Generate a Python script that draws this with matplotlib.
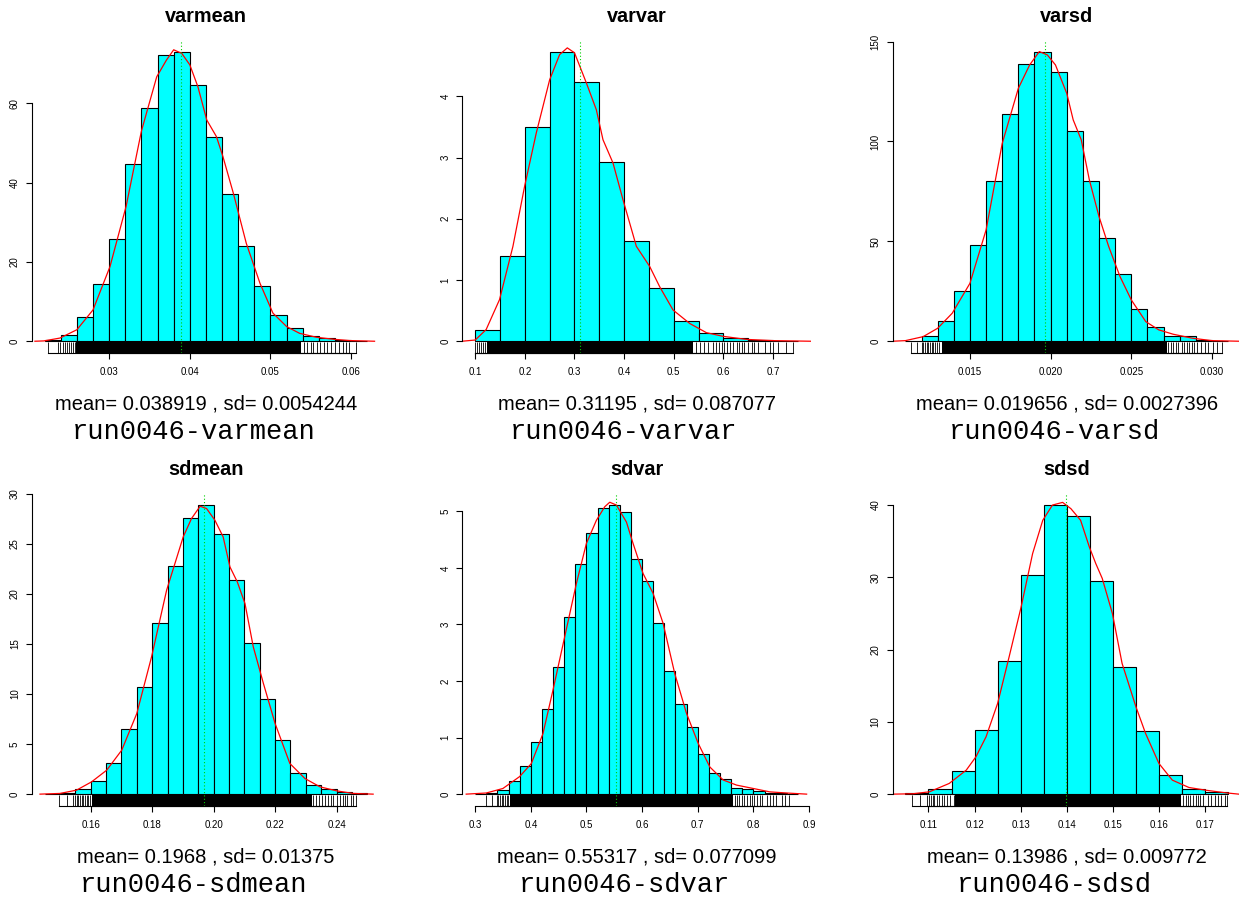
import numpy as np
import matplotlib
matplotlib.use('Agg')
import matplotlib.pyplot as plt

W, H = 1239, 899

names = ['varmean', 'varvar', 'varsd', 'sdmean', 'sdvar', 'sdsd']
means = [0.038919, 0.31195, 0.019656, 0.1968, 0.55317, 0.13986]
sds = [0.0054244, 0.087077, 0.0027396, 0.01375, 0.077099, 0.009772]

# histogram bins: first break, bin width, densities
bin_start = [0.022, 0.10, 0.011, 0.145, 0.30, 0.105]
bin_width = [0.002, 0.05, 0.001, 0.005, 0.02, 0.005]
varmean_h = [0.25, 1.5, 6.05, 14.5, 25.9, 44.8, 58.9, 72.2, 72.9, 64.5,
             51.6, 37.1, 23.9, 13.9, 6.6, 3.3, 1.2, 0.8, 0.25, 0.1]
varvar_h = [0.19, 1.39, 3.49, 4.72, 4.23, 2.92, 1.63, 0.87, 0.33, 0.13,
            0.06, 0.02, 0.01]
varsd_h = [0.2, 2.7, 10.2, 24.9, 48.2, 80.4, 113.5, 138.8, 144.7, 134.8,
           105.1, 80.3, 51.9, 33.9, 16.0, 7.3, 2.8, 2.5, 0.7, 0.3]
sdmean_h = [0.05, 0.1, 0.47, 1.33, 3.06, 6.55, 10.7, 17.1, 22.8, 27.6,
            28.83, 25.97, 21.38, 15.1, 9.51, 5.42, 2.13, 0.93, 0.53, 0.2, 0.07]
sdvar_h = [0.01, 0.02, 0.08, 0.23, 0.49, 0.92, 1.50, 2.24, 3.13, 4.07,
           4.61, 5.06, 5.11, 4.99, 4.16, 3.77, 3.03, 2.18, 1.59, 1.18,
           0.71, 0.37, 0.27, 0.10, 0.09, 0.06, 0.02, 0.02, 0.01]
sdsd_h = [0.1, 0.74, 3.23, 8.81, 18.4, 30.36, 40.0, 38.52, 29.53, 17.62,
          8.72, 2.68, 0.78, 0.23]
heights = [varmean_h, varvar_h, varsd_h, sdmean_h, sdvar_h, sdsd_h]

# kernel density curves
varmean_dx = [0.0208, 0.0219, 0.0239, 0.026, 0.028, 0.0301, 0.0321, 0.034, 0.0359,
              0.0371, 0.038, 0.039, 0.040, 0.041, 0.0421, 0.0433, 0.0441, 0.0454,
              0.047, 0.0487, 0.0503, 0.052, 0.0536, 0.0557, 0.0578, 0.0598, 0.0629]
varmean_dy = [0, 0.08, 0.8, 2.9, 7.9, 18.8, 34, 53, 66.7, 70.9, 73.5, 72.6, 69.7,
              64.2, 55.8, 51.6, 46.6, 37.3, 24.7, 14.6, 7.1, 3.7, 2.0, 1.0, 0.5, 0.17, 0]
varvar_dx = [0.0738, 0.1, 0.122, 0.149, 0.176, 0.1995, 0.223, 0.25, 0.27, 0.2855,
             0.30, 0.3238, 0.344, 0.3574, 0.3776, 0.3977, 0.4246, 0.4515, 0.4716,
             0.4985, 0.5321, 0.5657, 0.5993, 0.6464, 0.70, 0.776]
varvar_dy = [0, 0.02, 0.19, 0.68, 1.55, 2.53, 3.4, 4.27, 4.68, 4.79, 4.71, 4.22,
             3.78, 3.29, 2.91, 2.31, 1.55, 1.22, 0.89, 0.51, 0.29, 0.14, 0.08,
             0.03, 0.01, 0]
varsd_dx = [0.0102, 0.011, 0.0121, 0.013, 0.0139, 0.0150, 0.0160, 0.0170, 0.018,
            0.0187, 0.0193, 0.0198, 0.0203, 0.0210, 0.0214, 0.0219, 0.0224, 0.0230,
            0.0236, 0.0243, 0.0250, 0.0259, 0.0267, 0.0276, 0.0288, 0.0300, 0.0317]
varsd_dy = [0, 0.3, 2.3, 6.5, 14, 29, 55.7, 99, 126.6, 138.3, 145, 143.3, 138.3,
            124.1, 110.8, 100.8, 80.8, 62.4, 47.4, 32.4, 20.7, 9.8, 5.7, 3.5, 1.5,
            0.3, 0]
sdmean_dx = [0.1435, 0.15, 0.1554, 0.1603, 0.1652, 0.1701, 0.175, 0.1798, 0.1847,
             0.1901, 0.1928, 0.1956, 0.1977, 0.2004, 0.2031, 0.2053, 0.2077, 0.2102,
             0.2129, 0.2162, 0.22, 0.2248, 0.2297, 0.2346, 0.24, 0.2454, 0.2519]
sdmean_dy = [0, 0.07, 0.4, 1.23, 2.39, 4.39, 8.05, 13.7, 20.35, 25.67, 27.5, 28.73,
             28.5, 27.34, 25.67, 22.68, 21.18, 19.02, 14.7, 11.04, 7.05, 3.06, 1.56,
             0.73, 0.33, 0.07, 0]
sdvar_dx = [0.2838, 0.3198, 0.3498, 0.3798, 0.4008, 0.4218, 0.4398, 0.4608, 0.4818,
            0.4998, 0.5178, 0.5328, 0.5418, 0.5538, 0.5718, 0.5838, 0.6017, 0.6197,
            0.6377, 0.6587, 0.6797, 0.7007, 0.7217, 0.7457, 0.7697, 0.7997, 0.8297,
            0.8597, 0.8957]
sdvar_dy = [0, 0.02, 0.1, 0.31, 0.54, 1.07, 1.84, 2.78, 3.72, 4.43, 4.84, 5.08, 5.16,
            5.11, 4.81, 4.43, 3.9, 3.55, 3.02, 2.13, 1.43, 0.9, 0.48, 0.25, 0.16, 0.1,
            0.04, 0.02, 0]
sdsd_dx = [0.1023, 0.1066, 0.1102, 0.1145, 0.1182, 0.1203, 0.1225, 0.125, 0.1275,
           0.1301, 0.1326, 0.1348, 0.1369, 0.1391, 0.1409, 0.143, 0.1449, 0.1463,
           0.1477, 0.1499, 0.152, 0.155, 0.1571, 0.16, 0.1629, 0.1665, 0.1701,
           0.1745, 0.1773]
sdsd_dy = [0, 0.05, 0.32, 1.48, 3.32, 5.17, 7.94, 12.55, 19.0, 25.9, 33.3, 37.9,
           40.0, 40.37, 39.5, 37.9, 34.2, 31.9, 29.85, 25.0, 18.1, 12.1, 8.4, 4.24,
           1.94, 0.92, 0.55, 0.18, 0]
dens_x = [varmean_dx, varvar_dx, varsd_dx, sdmean_dx, sdvar_dx, sdsd_dx]
dens_y = [varmean_dy, varvar_dy, varsd_dy, sdmean_dy, sdvar_dy, sdsd_dy]

# rug: sparse tails + the solid middle stretch
rug_left = [
    [0.02243, 0.02368, 0.02397, 0.0243, 0.02455, 0.0248, 0.02504, 0.02529, 0.02554, 0.02578],
    [0.0999, 0.1040, 0.1081, 0.1121, 0.1161, 0.1195],
    [0.01132, 0.01173, 0.01201, 0.01211, 0.01221, 0.01232, 0.01242, 0.01252, 0.01263,
     0.01273, 0.01283, 0.01297, 0.0131],
    [0.1497, 0.1522, 0.15435, 0.1549, 0.15546, 0.15598, 0.15653, 0.15708, 0.1576,
     0.15816, 0.15871, 0.15923, 0.15978],
    [0.31866, 0.32946, 0.33846, 0.34134, 0.3444, 0.34746, 0.35034, 0.3534, 0.35646, 0.35933],
    [0.1064, 0.1082, 0.10978, 0.11014, 0.11051, 0.11095, 0.11129, 0.11181, 0.11238,
     0.1129, 0.11339, 0.11398, 0.11469, 0.11556],
]
rug_right = [
    [0.05413, 0.05454, 0.05496, 0.05529, 0.05571, 0.05612, 0.05661, 0.05702, 0.05744,
     0.05798, 0.05851, 0.05893, 0.05934, 0.05975, 0.06058],
    [0.5449, 0.553, 0.5611, 0.5697, 0.5786, 0.5852, 0.5907, 0.5967, 0.6013, 0.608,
     0.6135, 0.6201, 0.6269, 0.6322, 0.637, 0.6417, 0.6503, 0.6572, 0.6618, 0.6705,
     0.684, 0.6941, 0.6995, 0.7108, 0.7264, 0.7411],
    [0.02729, 0.02744, 0.0276, 0.02777, 0.02791, 0.02812, 0.02826, 0.02843, 0.02859,
     0.02874, 0.02888, 0.02909, 0.0293, 0.02957, 0.02977, 0.03008, 0.03033, 0.0306],
    [0.2324, 0.23328, 0.23416, 0.23513, 0.2362, 0.23728, 0.23816, 0.2389, 0.24001,
     0.24108, 0.24196, 0.24271, 0.24346, 0.24456, 0.24541, 0.24629],
    [0.76728, 0.77142, 0.77502, 0.77934, 0.78348, 0.78834, 0.79302, 0.79734, 0.80148,
     0.80634, 0.81101, 0.81533, 0.82433, 0.83027, 0.83513, 0.84107, 0.85133, 0.85727,
     0.86321],
    [0.16523, 0.16581, 0.16631, 0.16683, 0.16739, 0.16798, 0.16848, 0.16899, 0.16956,
     0.17064, 0.17138, 0.17209, 0.17281, 0.17355, 0.17426, 0.17476],
]
rug_core = [(0.0259, 0.0538), (0.1229, 0.5395), (0.01325, 0.02719),
            (0.16034, 0.23188), (0.36239, 0.76424), (0.11578, 0.16487)]

xticks = [[0.03, 0.04, 0.05, 0.06],
          [0.1, 0.2, 0.3, 0.4, 0.5, 0.6, 0.7],
          [0.015, 0.020, 0.025, 0.030],
          [0.16, 0.18, 0.20, 0.22, 0.24],
          [0.3, 0.4, 0.5, 0.6, 0.7, 0.8, 0.9],
          [0.11, 0.12, 0.13, 0.14, 0.15, 0.16, 0.17]]
xlabels = [['0.03', '0.04', '0.05', '0.06'],
           ['0.1', '0.2', '0.3', '0.4', '0.5', '0.6', '0.7'],
           ['0.015', '0.020', '0.025', '0.030'],
           ['0.16', '0.18', '0.20', '0.22', '0.24'],
           ['0.3', '0.4', '0.5', '0.6', '0.7', '0.8', '0.9'],
           ['0.11', '0.12', '0.13', '0.14', '0.15', '0.16', '0.17']]
yticks = [[0, 20, 40, 60], [0, 1, 2, 3, 4], [0, 50, 100, 150],
          [0, 5, 10, 15, 20, 25, 30], [0, 1, 2, 3, 4, 5], [0, 10, 20, 30, 40]]

# panel placement in pixels
col_left = [31.7, 462.3, 892.5]
row_top = [40.6, 493.5]
AX_W, AX_H = 348.5, 312.2

plt.rcParams['font.family'] = ['Liberation Sans', 'DejaVu Sans']
fig = plt.figure(figsize=(W / 100, H / 100), dpi=100)


def fx(px):
    return px / W


def fy(py):
    return 1 - py / H


for i in range(6):
    col, row = i % 3, i // 3
    left, top = col_left[col], row_top[row]
    ax = fig.add_axes([fx(left), fy(top + AX_H), AX_W / W, AX_H / H])

    h = heights[i]
    edges = bin_start[i] + bin_width[i] * np.arange(len(h) + 1)
    ax.bar(edges[:-1], h, width=bin_width[i], align='edge', color='#00FFFF',
           edgecolor='black', linewidth=0.8)
    ymax = max(h)
    pad = 0.04 * (edges[-1] - edges[0])
    ax.set_xlim(edges[0] - pad, edges[-1] + pad)
    ax.set_ylim(-0.04 * ymax, 1.04 * ymax)

    ax.plot(dens_x[i], dens_y[i], color='red', lw=0.9)

    trans = ax.get_xaxis_transform()
    ax.vlines(rug_left[i] + rug_right[i], 0, 0.035, transform=trans,
              color='black', lw=0.6)
    c0, c1 = rug_core[i]
    ax.fill_between([c0, c1], 0, 0.035, transform=trans, color='black', lw=0)
    ax.plot([rug_left[i][0], rug_right[i][-1]], [0, 0], transform=trans,
            color='black', lw=0.8, clip_on=False)

    ax.axvline(means[i], color='#00D000', ls=(0, (1, 2)), lw=0.8)

    for s in ['top', 'right']:
        ax.spines[s].set_visible(False)
    ax.spines['left'].set_bounds(yticks[i][0], yticks[i][-1])
    ax.spines['bottom'].set_bounds(xticks[i][0], xticks[i][-1])
    for s in ['left', 'bottom']:
        ax.spines[s].set_linewidth(0.8)
    ax.set_xticks(xticks[i])
    ax.set_xticklabels(xlabels[i])
    ax.set_yticks(yticks[i])
    ax.set_yticklabels([str(v) for v in yticks[i]], rotation=90, va='center')
    ax.tick_params(axis='both', length=4.5, width=0.8, labelsize=7)
    ax.tick_params(axis='x', pad=5.5)
    ax.tick_params(axis='y', pad=4)

    cx = left + AX_W / 2
    fig.text(fx(cx), fy(top - 24), names[i], ha='center', va='center',
             fontsize=14.3, fontweight='bold')
    fig.text(fx(cx), fy(top + AX_H + 51.4),
             f'mean= {means[i]:.5g} , sd= {sds[i]:.5g}',
             ha='center', va='center', fontsize=14.5)
    fig.text(fx(cx - 12.5), fy(top + AX_H + 79.4), 'run0046-' + names[i],
             ha='center', va='center', fontsize=19.5, family='Liberation Mono')

fig.savefig('out.png', dpi=100)
